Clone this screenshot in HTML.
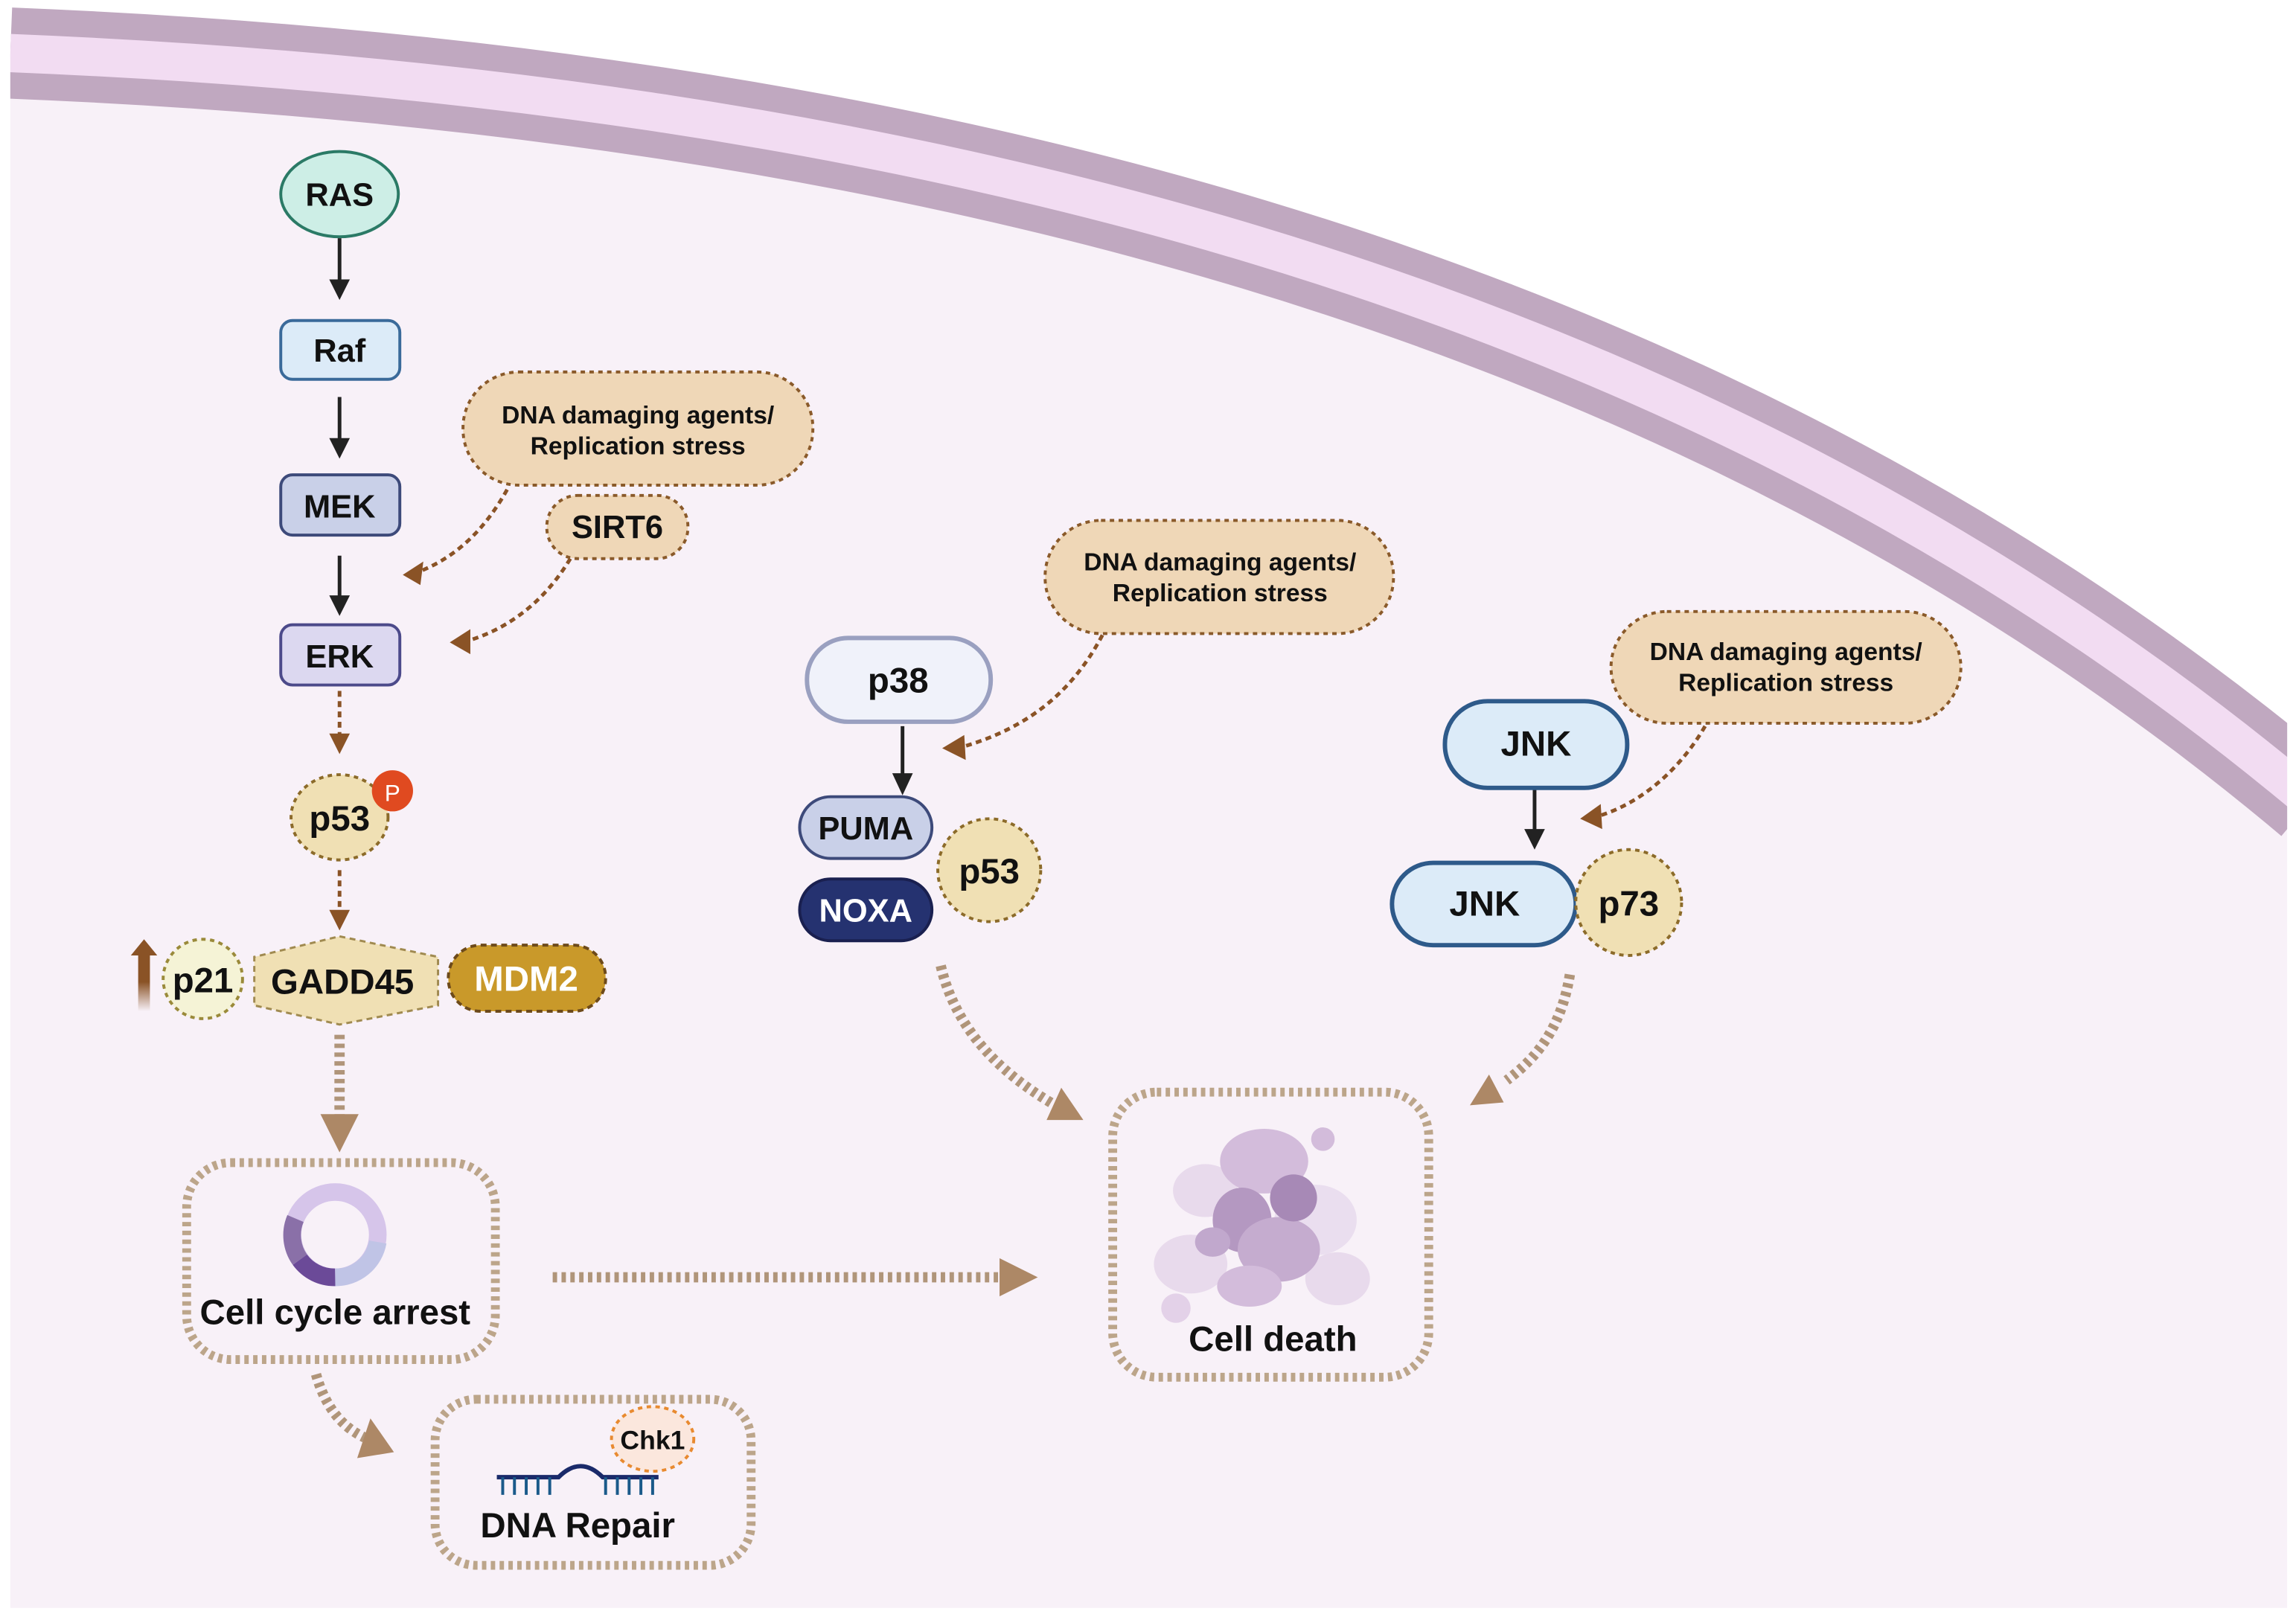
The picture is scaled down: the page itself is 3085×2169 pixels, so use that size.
<!DOCTYPE html>
<html><head><meta charset="utf-8"><style>
html,body{margin:0;padding:0;background:#fff}
svg{display:block}
text{font-family:"Liberation Sans",sans-serif;font-weight:bold;text-anchor:middle;fill:#111}
</style></head><body>
<svg width="3085" height="2169" viewBox="0 0 1562 1098" xmlns="http://www.w3.org/2000/svg">
<defs>
<linearGradient id="ug" x1="0" y1="0" x2="0" y2="1"><stop offset="0.5" stop-color="#8a5326"/><stop offset="1" stop-color="#8a5326" stop-opacity="0"/></linearGradient>
</defs>
<rect width="1562" height="1098" fill="#fff"/>
<path d="M7,36 C600,60 1150,190 1556,525 L1556,1094 L7,1094 Z" fill="#f8f1f8"/>
<path d="M7,36 C600,60 1150,190 1572,545" fill="none" stroke="#c0a8c0" stroke-width="62"/>
<path d="M7,36 C600,60 1150,190 1572,545" fill="none" stroke="#f2dcf2" stroke-width="26"/>
<rect x="1556" y="0" width="6" height="1098" fill="#fff"/>
<rect x="0" y="0" width="7" height="1098" fill="#fff"/>
<rect x="0" y="1094" width="1562" height="4" fill="#fff"/>

<ellipse cx="231" cy="132" rx="40" ry="29" fill="#cdeee6" stroke="#2b7a66" stroke-width="2"/>
<text x="231" y="140" font-size="22">RAS</text>
<g stroke="#222" stroke-width="2.5"><line x1="231" y1="162" x2="231" y2="192"/><line x1="231" y1="270" x2="231" y2="300"/><line x1="231" y1="378" x2="231" y2="407"/><line x1="614" y1="494" x2="614" y2="528"/><line x1="1044" y1="534" x2="1044" y2="566"/></g>
<g fill="#222"><path d="M224,190 L238,190 L231,204Z"/><path d="M224,298 L238,298 L231,312Z"/><path d="M224,405 L238,405 L231,419Z"/><path d="M607,526 L621,526 L614,541Z"/><path d="M1037,564 L1051,564 L1044,578Z"/></g>
<rect x="191" y="218" width="81" height="40" rx="8" fill="#dcebf8" stroke="#3a6a9a" stroke-width="2"/>
<text x="231" y="246" font-size="22">Raf</text>
<rect x="191" y="323" width="81" height="41" rx="8" fill="#c9d0e8" stroke="#3d4a7a" stroke-width="2"/>
<text x="231" y="352" font-size="22">MEK</text>
<rect x="191" y="425" width="81" height="41" rx="8" fill="#dcd8f0" stroke="#4c4a8a" stroke-width="2"/>
<text x="231" y="454" font-size="22">ERK</text>

<g stroke="#8a5326" stroke-width="2.5" stroke-dasharray="4,3" fill="none"><line x1="231" y1="470" x2="231" y2="500"/><line x1="231" y1="592" x2="231" y2="620"/>
<path d="M345,333 C330,360 310,380 282,390"/><path d="M388,380 C370,410 345,428 318,436"/><path d="M750,432 C730,470 700,495 655,508"/><path d="M1160,494 C1145,520 1120,545 1088,555"/></g>
<g fill="#8a5326"><path d="M224,499 L238,499 L231,513Z"/><path d="M224,619 L238,619 L231,633Z"/>
<path d="M274,391 L288,382 L286,398Z"/><path d="M306,437 L320,428 L320,445Z"/><path d="M641,509 L656,500 L657,517Z"/><path d="M1075,557 L1089,547 L1090,564Z"/></g>

<ellipse cx="231" cy="556" rx="33" ry="29" fill="#f0e0b4" stroke="#8c6b2a" stroke-width="2" stroke-dasharray="3,3"/>
<text x="231" y="565" font-size="24">p53</text>
<circle cx="267" cy="538" r="14" fill="#e04a20"/>
<text x="267" y="545" font-size="16" style="fill:#fff;font-weight:normal">P</text>

<rect x="94" y="648" width="8" height="40" fill="url(#ug)"/><path d="M89,650 L107,650 L98,639Z" fill="#8a5326"/>
<circle cx="138" cy="666" r="27" fill="#f5f3d6" stroke="#9a8a3a" stroke-width="2" stroke-dasharray="3,3"/>
<text x="138" y="675" font-size="24">p21</text>
<path d="M231,637 L298,651 L298,684 L231,697 L173,684 L173,651Z" fill="#f0e0b4" stroke="#a08a50" stroke-width="1.5" stroke-dasharray="4,3"/>
<text x="233" y="676" font-size="24">GADD45</text>
<rect x="305" y="643" width="107" height="45" rx="22" fill="#c9992a" stroke="#6d4a1a" stroke-width="2" stroke-dasharray="4,3"/>
<text x="358" y="674" font-size="24" style="fill:#fff">MDM2</text>

<g stroke="#b0957a" stroke-width="7" stroke-dasharray="3,3" fill="none">
<line x1="231" y1="704" x2="231" y2="760"/>
<line x1="376" y1="869" x2="682" y2="869"/>
<path d="M215,935 C222,960 235,972 248,978"/>
<path d="M640,657 C650,700 680,730 718,752"/>
<path d="M1068,663 C1062,700 1045,720 1025,735"/>
</g>
<g fill="#ad8866"><path d="M218,758 L244,758 L231,784Z"/><path d="M680,856 L706,869 L680,882Z"/><path d="M243,992 L268,988 L252,965Z"/><path d="M712,762 L737,762 L722,740Z"/><path d="M1000,752 L1023,750 L1013,731Z"/></g>

<g fill="none" stroke="#bca58a" stroke-width="6" stroke-dasharray="3,3">
<rect x="127" y="791" width="210" height="134" rx="30"/>
<rect x="296" y="952" width="215" height="113" rx="28"/>
<rect x="757" y="743" width="215" height="194" rx="30"/>
</g>
<g>
<circle cx="228" cy="840" r="29" fill="none" stroke="#d6c5ea" stroke-width="12"/>
<path d="M257,845 A29,29 0 0,1 228,869" fill="none" stroke="#c0c4e6" stroke-width="12"/>
<path d="M228,869 A29,29 0 0,1 204,857" fill="none" stroke="#6b4a98" stroke-width="12"/>
<path d="M204,857 A29,29 0 0,1 201,829" fill="none" stroke="#8a70a8" stroke-width="12"/>
</g>
<text x="228" y="901" font-size="24">Cell cycle arrest</text>
<ellipse cx="444" cy="979" rx="28" ry="22" fill="#fbe7dd" stroke="#e88a30" stroke-width="2" stroke-dasharray="3,3"/>
<text x="444" y="986" font-size="18">Chk1</text>
<g stroke="#1a2a6a" stroke-width="3" fill="none"><path d="M338,1005 L380,1005 C390,995 400,995 410,1005 L448,1005"/></g>
<g stroke="#1a5a8a" stroke-width="2"><path d="M342,1005 V1017 M350,1005 V1017 M358,1005 V1017 M366,1005 V1017 M374,1005 V1017 M412,1005 V1017 M420,1005 V1017 M428,1005 V1017 M436,1005 V1017 M444,1005 V1017"/></g>
<text x="393" y="1046" font-size="24">DNA Repair</text>

<g opacity="0.85">
<ellipse cx="820" cy="810" rx="22" ry="18" fill="#e6d6ea"/>
<ellipse cx="895" cy="830" rx="28" ry="24" fill="#e8dbee"/>
<ellipse cx="810" cy="860" rx="25" ry="20" fill="#e6d6ea"/>
<ellipse cx="910" cy="870" rx="22" ry="18" fill="#e6d6ea"/>
<ellipse cx="860" cy="790" rx="30" ry="22" fill="#cdb3d6"/>
<ellipse cx="845" cy="830" rx="20" ry="22" fill="#a989b8"/>
<ellipse cx="870" cy="850" rx="28" ry="22" fill="#bda0c8"/>
<ellipse cx="880" cy="815" rx="16" ry="16" fill="#9a78ab"/>
<ellipse cx="850" cy="875" rx="22" ry="14" fill="#cdb3d6"/>
<ellipse cx="825" cy="845" rx="12" ry="10" fill="#b89cc6"/>
<circle cx="900" cy="775" r="8" fill="#cdb3d6"/>
<circle cx="800" cy="890" r="10" fill="#e0cce6"/>
</g>
<text x="866" y="919" font-size="24">Cell death</text>

<g fill="#efd7b7" stroke="#8a5a2a" stroke-width="2" stroke-dasharray="3,3">
<rect x="315" y="253" width="238" height="77" rx="38"/>
<rect x="711" y="354" width="237" height="77" rx="38"/>
<rect x="1096" y="416" width="238" height="76" rx="38"/>
<rect x="372" y="337" width="96" height="43" rx="21"/>
</g>
<g font-size="17"><text x="434" y="288">DNA damaging agents/</text><text x="434" y="309">Replication stress</text>
<text x="830" y="388">DNA damaging agents/</text><text x="830" y="409">Replication stress</text>
<text x="1215" y="449">DNA damaging agents/</text><text x="1215" y="470">Replication stress</text></g>
<text x="420" y="366" font-size="22">SIRT6</text>

<rect x="549" y="434" width="125" height="57" rx="28" fill="#f0f2fa" stroke="#9aa0c0" stroke-width="3"/>
<text x="611" y="471" font-size="24">p38</text>
<rect x="544" y="542" width="90" height="42" rx="21" fill="#c9d0e8" stroke="#3d4a7a" stroke-width="2"/>
<text x="589" y="571" font-size="22">PUMA</text>
<rect x="544" y="598" width="90" height="42" rx="21" fill="#253270" stroke="#1a2050" stroke-width="2"/>
<text x="589" y="627" font-size="22" style="fill:#fff">NOXA</text>
<circle cx="673" cy="592" r="35" fill="#f0e0b4" stroke="#8c6b2a" stroke-width="2" stroke-dasharray="3,3"/>
<text x="673" y="601" font-size="24">p53</text>

<rect x="983" y="477" width="124" height="59" rx="29" fill="#dcebf8" stroke="#2e5a8a" stroke-width="3"/>
<text x="1045" y="514" font-size="24">JNK</text>
<rect x="947" y="587" width="125" height="56" rx="28" fill="#dcebf8" stroke="#2e5a8a" stroke-width="3"/>
<text x="1010" y="623" font-size="24">JNK</text>
<circle cx="1108" cy="614" r="36" fill="#f0e0b4" stroke="#8c6b2a" stroke-width="2" stroke-dasharray="3,3"/>
<text x="1108" y="623" font-size="24">p73</text>
</svg>
</body></html>
